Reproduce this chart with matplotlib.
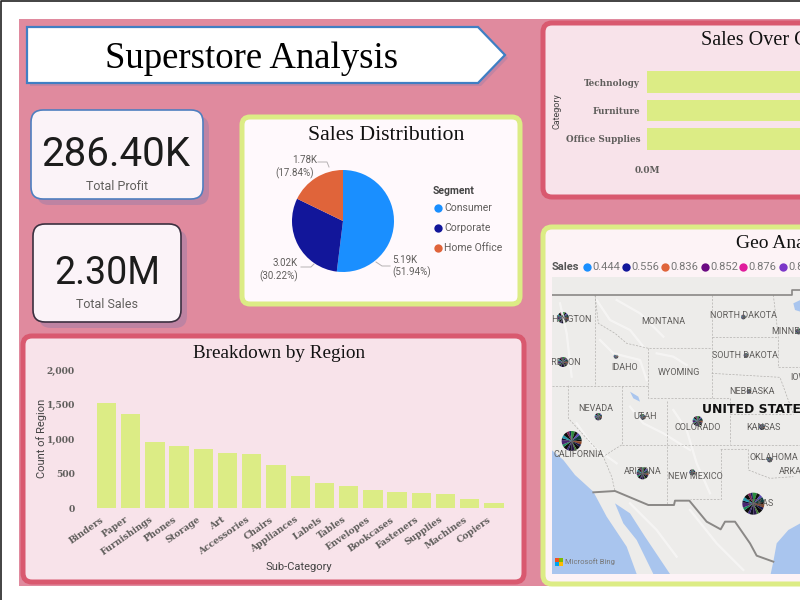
import matplotlib
matplotlib.use("Agg")
import matplotlib.pyplot as plt
from matplotlib.patches import FancyBboxPatch, Polygon, Rectangle
from matplotlib.transforms import ScaledTranslation

# --- data ---
sub_categories = ["Binders", "Paper", "Furnishings", "Phones", "Storage", "Art", "Accessories",
                  "Chairs", "Appliances", "Labels", "Tables", "Envelopes", "Bookcases",
                  "Fasteners", "Supplies", "Machines", "Copiers"]
region_counts = [1524, 1369, 953, 895, 851, 793, 779, 624, 469, 358, 324, 256, 227, 213, 198, 126, 72]
region_ticks = [0, 500, 1000, 1500, 2000]

segments = ["Consumer", "Corporate", "Home Office"]
segment_sales = [5.19, 3.02, 1.78]
segment_share = [51.94, 30.22, 17.84]

categories = ["Office Supplies", "Furniture", "Technology"]
category_sales = [0.72, 0.74, 0.84]
category_ticks = [0.0, 0.5, 1.0]

sales_legend = ["0.444", "0.556", "0.836", "0.852", "0.876", "0.880"]

# map is hand traced, map units run along the picture of the map
state_names = ["MONTANA", "NORTH DAKOTA", "SOUTH DAKOTA", "IDAHO", "WYOMING", "NEBRASKA", "NEVADA",
               "UTAH", "COLORADO", "KANSAS", "CALIFORNIA", "ARIZONA", "NEW MEXICO", "OKLAHOMA",
               "WASHINGTON", "OREGON", "MINNESOTA", "TEXAS", "IOWA", "ARKANSAS"]
state_x = [400, 640, 645, 283, 447, 665, 197, 344, 503, 699, 145, 338, 495, 732, 100, 100, 800, 690, 815, 815]
state_y = [95, 76, 195, 232, 247, 304, 356, 380, 412, 413, 493, 546, 560, 503, 90, 218, 124, 641, 262, 545]

bubble_x = [99, 99, 258, 640, 806, 648, 657, 205, 337, 503, 696, 125, 719, 338, 487, 670]
bubble_y = [83, 216, 199, 81, 124, 196, 304, 380, 381, 393, 411, 453, 509, 550, 547, 641]
bubble_r = [17, 15, 7, 7, 9, 7, 7, 11, 9, 15, 9, 30, 8, 18, 9, 33]
bubble_slices = [5, 3, 6, 4, 7, 3, 5, 6, 4, 3, 6, 5, 4, 7, 3, 5, 4, 6, 3, 5]
bubble_colors = ["#111122", "#3b2a7a", "#0d0d0d", "#1d8a5a", "#4a2472", "#101030", "#2398aa", "#0b0b0b",
                 "#7a1f4d", "#1a1a5e", "#2a8c3c", "#121212", "#5a4ab5", "#0f3d3d", "#101010", "#8a4526",
                 "#18184a", "#0c0c0c", "#40772f", "#2a1a4a"]

border_lines = [
    [(195, 15), (205, 100), (255, 130), (290, 160), (355, 175), (545, 175)],
    [(195, 15), (195, 287)],
    [(65, 287), (355, 287)],
    [(545, 15), (545, 325)],
    [(545, 140), (745, 140)],
    [(730, 15), (745, 140), (745, 232), (810, 232)],
    [(545, 250), (750, 262), (790, 372)],
    [(355, 175), (355, 325), (600, 325)],
    [(275, 287), (275, 465)],
    [(115, 287), (115, 385), (220, 500), (245, 560), (255, 603)],
    [(410, 333), (410, 645)],
    [(275, 465), (250, 480), (220, 500)],
    [(275, 465), (810, 465)],
    [(600, 325), (600, 372), (600, 462)],
    [(600, 372), (790, 372)],
    [(572, 478), (655, 478), (655, 540), (720, 565), (790, 560)],
    [(572, 478), (572, 627), (480, 627)],
]
# faint strokes for the relief of the base map
relief_lines = [
    [(200, 30), (240, 90), (300, 120), (340, 170)],
    [(210, 150), (250, 190), (330, 210), (350, 270)],
    [(380, 190), (430, 200), (470, 225)],
    [(300, 350), (340, 400), (400, 430), (480, 480)],
    [(90, 40), (110, 130), (125, 260)],
    [(140, 400), (190, 470), (260, 520)],
    [(430, 360), (470, 420), (500, 520), (540, 610)],
    [(300, 640), (380, 720), (440, 800)],
    [(480, 660), (560, 760), (640, 840)],
    [(260, 30), (330, 70), (400, 140)],
]
mexico_x = [190, 255, 355, 432, 435, 478, 530, 572, 585, 615, 660, 680, 730]
mexico_y = [607, 603, 645, 645, 632, 632, 695, 718, 695, 695, 760, 797, 815]
canada_x = [65, 785, 785, 810]
canada_y = [15, 15, 0, 0]
pacific = [(65, 480), (100, 510), (135, 555), (190, 605), (230, 680), (290, 770), (320, 852), (65, 852)]
gulf_california = [(255, 640), (300, 670), (345, 740), (420, 852), (370, 852), (320, 750), (280, 700)]
gulf_mexico = [(730, 815), (740, 760), (775, 720), (811, 700), (811, 852), (722, 852)]
lakes = [[(300, 305), (325, 320), (330, 335), (310, 325)], [(790, 40), (811, 30), (811, 65), (795, 60)]]

PINK = "#e08a9e"
RED = "#d9596f"
LIME = "#dcec85"
SHADOW = "#a87fa6"
GREY = "#605e5c"
SERIF = "Liberation Serif"
SANS = "Roboto"

fig = plt.figure(figsize=(8, 6), dpi=100, facecolor="white")
bg = fig.add_axes([0, 0, 1, 1])
bg.set_xlim(0, 800)
bg.set_ylim(600, 0)
bg.axis("off")


def px_axes(left, top, right, bottom):
    # axes from picture pixels
    return fig.add_axes([left / 800, 1 - bottom / 600, (right - left) / 800, (bottom - top) / 600])


def card(x0, y0, x1, y1, face, edge, lw=1.0, round_size=10, shadow=False):
    if shadow:
        bg.add_patch(FancyBboxPatch((x0 + 6, y0 + 6), x1 - x0, y1 - y0, boxstyle=f"round,pad=0,rounding_size={round_size}",
                                    fc=SHADOW, ec="none", alpha=0.6))
    bg.add_patch(FancyBboxPatch((x0, y0), x1 - x0, y1 - y0, boxstyle=f"round,pad=0,rounding_size={round_size}",
                                fc=face, ec=edge, lw=lw))


# page
bg.add_patch(Rectangle((19, 19), 790, 567, fc=PINK, ec="none"))
bg.plot([0.5, 0.5, 800], [600, 0.8, 0.8], color="#222222", lw=1.2)

# banner
bg.add_patch(Polygon([(30, 30), (481, 30), (508, 58), (481, 86), (30, 86)], fc=SHADOW, ec="none", alpha=0.5))
bg.add_patch(Polygon([(27, 27), (478, 27), (505, 55), (478, 83), (27, 83)], fc="white", ec="#3f7fc4", lw=1.6))
bg.text(252, 59, "Superstore Analysis", family=SERIF, fontsize=26.5, ha="center", va="center", color="black")

# KPI cards
card(31, 110, 203, 199, "#fbf3f8", "#4f7fc0", lw=1.2, round_size=12, shadow=True)
bg.text(116, 155, "286.40K", family=SANS, fontsize=29, ha="center", va="center", color="#1c1c1c")
bg.text(117, 186, "Total Profit", family=SANS, fontsize=9, ha="center", va="center", color=GREY)
card(33, 224, 181, 322, "#fbf3f8", "#3c3040", lw=1.2, round_size=12, shadow=True)
bg.text(107, 273, "2.30M", family=SANS, fontsize=27, ha="center", va="center", color="#1c1c1c")
bg.text(107, 304, "Total Sales", family=SANS, fontsize=9, ha="center", va="center", color=GREY)

# panels
card(242, 117, 520, 304, "#fff9fc", LIME, lw=3.6, round_size=8)
card(23, 336, 524, 582, "#f8e3ea", RED, lw=3.6, round_size=9)
card(543, 23, 830, 197, "#f8e3ea", RED, lw=3.6, round_size=9)
card(543, 227, 830, 584, "#fdf3f6", LIME, lw=3.6, round_size=9)

bg.text(386, 136, "Sales Distribution", family=SERIF, fontsize=15.7, ha="center", va="center", color="#111111")
bg.text(279, 353, "Breakdown by Region", family=SERIF, fontsize=13.8, ha="center", va="center", color="#111111")
bg.text(701, 41, "Sales Over Category", family=SERIF, fontsize=14.5, ha="left", va="center", color="#111111")
bg.text(736, 244, "Geo Analysis", family=SERIF, fontsize=14, ha="left", va="center", color="#111111")

# pie
ax_pie = px_axes(292, 170, 394, 272)
pie_colors = ["#1a8fff", "#12169a", "#e0643a"]
ax_pie.pie(segment_sales, colors=pie_colors, startangle=90, counterclock=False, radius=1)
ax_pie.set_xlim(-1, 1)
ax_pie.set_ylim(-1, 1)

bg.text(317, 160, f"{segment_sales[2]}K", family=SANS, fontsize=7, color=GREY, ha="right", va="center")
bg.text(314, 173, f"({segment_share[2]}%)", family=SANS, fontsize=7, color=GREY, ha="right", va="center")
bg.text(298, 263, f"{segment_sales[1]}K", family=SANS, fontsize=7, color=GREY, ha="right", va="center")
bg.text(298, 276, f"({segment_share[1]}%)", family=SANS, fontsize=7, color=GREY, ha="right", va="center")
bg.text(392, 260, f"{segment_sales[0]}K", family=SANS, fontsize=7, color=GREY, ha="left", va="center")
bg.text(392, 272, f"({segment_share[0]}%)", family=SANS, fontsize=7, color=GREY, ha="left", va="center")
bg.plot([318, 327, 329], [162, 162, 167], color="#b5b1b3", lw=0.7)
bg.plot([301, 311, 314], [267, 267, 264], color="#b5b1b3", lw=0.7)
bg.plot([376, 382, 390], [262, 266, 266], color="#b5b1b3", lw=0.7)

bg.text(433, 191, "Segment", family=SANS, fontsize=7.5, fontweight="bold", color="#444444", va="center")
for seg, col, yy in zip(segments, pie_colors, [208, 228, 248]):
    bg.plot(438, yy, "o", color=col, ms=6, mew=0)
    bg.text(444, yy, seg, family=SANS, fontsize=7.5, color=GREY, va="center")

# bars, sub-category
ax_bar = px_axes(94.4, 370, 506, 508)
ax_bar.patch.set_alpha(0)
ax_bar.bar(range(len(sub_categories)), region_counts, width=0.8, color="#dcec85")
ax_bar.set_xlim(-0.5, 16.5)
ax_bar.set_ylim(0, 2000)
ax_bar.set_yticks(region_ticks)
ax_bar.set_yticklabels([f"{v:,}" for v in region_ticks], family="DejaVu Serif", fontweight="bold", fontsize=6.6, color=GREY)
ax_bar.set_xticks(range(len(sub_categories)))
ax_bar.set_xticklabels(sub_categories, rotation=35, ha="right", rotation_mode="anchor",
                       family="DejaVu Serif", fontweight="bold", fontsize=6.6, color=GREY)
ax_bar.tick_params(length=0, axis="x", pad=5)
ax_bar.tick_params(length=0, axis="y", pad=14)
shift_left = ScaledTranslation(-6 / 100, 0, fig.dpi_scale_trans)
for lab in ax_bar.get_xticklabels():
    lab.set_transform(lab.get_transform() + shift_left)
for s in ax_bar.spines.values():
    s.set_visible(False)
ax_bar.set_ylabel("Count of Region", family=SANS, fontsize=8, color="#444444")
ax_bar.yaxis.set_label_coords(-0.115, 0.507)
ax_bar.set_xlabel("Sub-Category", family=SANS, fontsize=8, color="#444444")
ax_bar.xaxis.set_label_coords(0.497, -0.39)

# bars, category (runs past the edge of the page in the reference)
ax_cat = px_axes(647, 67.75, 1147, 153.25)
ax_cat.patch.set_alpha(0)
ax_cat.barh(categories, category_sales, height=0.77, color="#dcec85")
ax_cat.set_ylim(-0.5, 2.5)
ax_cat.set_xlim(0, 1.0)
ax_cat.set_xticks(category_ticks)
ax_cat.set_xticklabels([f"{v:.1f}M" for v in category_ticks], family="DejaVu Serif", fontweight="bold", fontsize=6.5, color=GREY)
ax_cat.set_yticks(range(len(categories)))
ax_cat.set_yticklabels(categories, family="DejaVu Serif", fontweight="bold", fontsize=6.3, color=GREY)
ax_cat.tick_params(axis="y", length=0, pad=5)
ax_cat.tick_params(axis="x", length=0, pad=9)
for s in ax_cat.spines.values():
    s.set_visible(False)
bg.text(557, 111, "Category", family=SANS, fontsize=6.5, color="#444444", rotation=90, ha="center", va="center")

# geo legend
bg.text(552, 267, "Sales", family=SANS, fontsize=8, fontweight="bold", color="#555555", va="center")
legend_colors = ["#1a8fff", "#12169a", "#e0643a", "#6b0a82", "#e01c9c", "#7c37c8"]
for val, col, xx in zip(sales_legend, legend_colors, [587, 626, 665, 705, 743, 783]):
    bg.plot(xx, 267, "o", color=col, ms=6, mew=0)
    bg.text(xx + 5, 267, val, family=SANS, fontsize=8, color="#777777", va="center")

# map
ax_map = px_axes(552, 277, 800, 574)
ax_map.set_facecolor("#edecea")
for line in relief_lines:
    xs, ys = zip(*line)
    ax_map.plot(xs, ys, color="#f7f6f5", lw=1.6, alpha=0.9)
for poly in [pacific, gulf_california, gulf_mexico] + lakes:
    ax_map.add_patch(Polygon(poly, fc="#a9c5ee", ec="none"))
for line in border_lines:
    xs, ys = zip(*line)
    ax_map.plot(xs, ys, color="#b3b1ae", lw=0.5, ls=(0, (3, 2)))
ax_map.plot(mexico_x, mexico_y, color="#8a8886", lw=1.4)
ax_map.plot(canada_x, canada_y, color="#8a8886", lw=1.2)
for name, xx, yy in zip(state_names, state_x, state_y):
    ax_map.text(xx, yy, name, family=SANS, fontsize=6.5, color="#5e5c5a", ha="center", va="center", clip_on=True)
ax_map.text(517, 358, "UNITED STATES", family="DejaVu Sans", fontsize=9, fontweight="bold", color="#111111",
            ha="left", va="center", clip_on=True)
for xx, yy, rr in zip(bubble_x, bubble_y, bubble_r):
    ax_map.pie(bubble_slices, colors=bubble_colors, center=(xx, yy), radius=rr, frame=True, startangle=90)
ax_map.set_xlim(66, 810)
ax_map.set_ylim(852, -39)
ax_map.set_aspect("auto")
ax_map.set_xticks([])
ax_map.set_yticks([])
for s in ax_map.spines.values():
    s.set_visible(False)
ax_map.add_patch(Rectangle((75, 804), 12, 12, fc="#f25022", ec="none"))
ax_map.add_patch(Rectangle((88, 804), 12, 12, fc="#7fba00", ec="none"))
ax_map.add_patch(Rectangle((75, 817), 12, 12, fc="#00a4ef", ec="none"))
ax_map.add_patch(Rectangle((88, 817), 12, 12, fc="#ffb900", ec="none"))
ax_map.text(105, 816, "Microsoft Bing", family=SANS, fontsize=5.5, color="#777777", va="center")

fig.savefig("out.png", dpi=100)
